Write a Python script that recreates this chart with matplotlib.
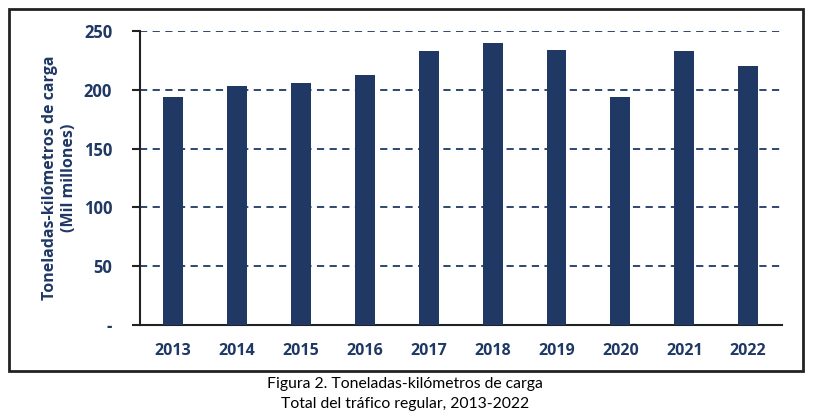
import matplotlib.pyplot as plt
from matplotlib.patches import Rectangle

# Toneladas-kilómetros de carga (mil millones)
anios = ["2013", "2014", "2015", "2016", "2017", "2018", "2019", "2020", "2021", "2022"]
valores = [194, 203, 206, 212.5, 233, 240, 234, 194, 233, 220]
ticks_y = [0, 50, 100, 150, 200, 250]
etiquetas_y = ["-", "50", "100", "150", "200", "250"]

azul = "#1F3864"
plt.rcParams['font.family'] = ['Open Sans', 'DejaVu Sans']

fig = plt.figure(figsize=(8.13, 4.17), dpi=100)
ax = fig.add_axes([0.1722, 0.2206, 0.7897, 0.7051])

x = range(len(anios))
ax.bar(x, valores, width=0.31, color=azul, zorder=3)

ax.set_xlim(-0.52, len(anios) - 0.47)
ax.set_ylim(0, 250)
ax.set_yticks(ticks_y)
ax.set_yticklabels(etiquetas_y)
ax.set_xticks(list(x))
ax.set_xticklabels(anios)

for lab in ax.get_xticklabels():
    lab.set_fontweight('bold')
    lab.set_color(azul)
    lab.set_fontsize(11.5)
for lab in ax.get_yticklabels():
    lab.set_fontweight('bold')
    lab.set_color(azul)
    lab.set_fontsize(12)

ax.tick_params(axis='x', length=0, pad=13)
ax.tick_params(axis='y', direction='out', length=6, width=1.5, color='#222222', pad=14)

for g in ticks_y[1:]:
    ax.axhline(g, color=azul, linestyle=(0, (4, 3)), linewidth=1.3, zorder=1)

for s in ['top', 'right']:
    ax.spines[s].set_visible(False)
ax.spines['left'].set_color('#222222')
ax.spines['left'].set_linewidth(1.5)
ax.spines['bottom'].set_color('#222222')
ax.spines['bottom'].set_linewidth(1.5)

ax.set_ylabel("Toneladas-kilómetros de carga\n(Mil millones)", fontsize=11.5,
              fontweight='bold', color=azul, labelpad=5, linespacing=1.2)

# Marco exterior
fig.patches.append(Rectangle((0.011, 0.110), 0.977, 0.868, transform=fig.transFigure,
                             fill=False, edgecolor='#222222', linewidth=2))

fig.text(0.498, 0.080, "Figura 2. Toneladas-kilómetros de carga", ha='center', va='center',
         fontsize=11.3, family=['Lato', 'DejaVu Sans'])
fig.text(0.498, 0.030, "Total del tráfico regular, 2013-2022", ha='center', va='center',
         fontsize=11.3, family=['Lato', 'DejaVu Sans'])

fig.savefig("out.png", dpi=100)
